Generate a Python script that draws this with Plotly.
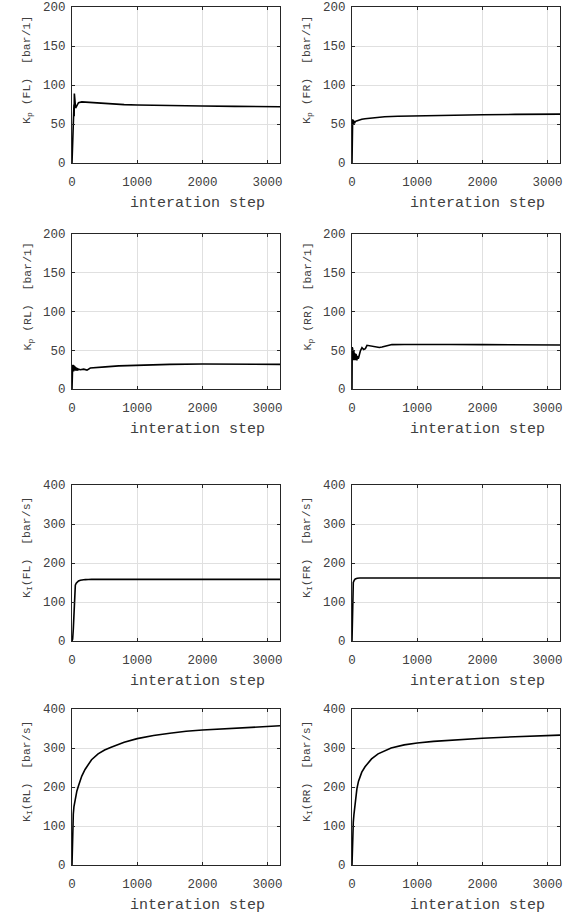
import plotly.graph_objects as go

# ---- data ----
kp_fl_x = [0, 5, 10, 15, 20, 25, 30, 33, 36, 40, 45, 50, 55, 65, 80, 100, 150, 200, 300, 400, 500, 600, 800, 1000, 1250, 1500, 2000, 2500, 3000, 3190]
kp_fl_y = [0, 10, 25, 42, 55, 50, 75, 60, 89, 80, 76, 72, 70.5, 72, 75, 77.3, 78.3, 78.0, 77.2, 76.5, 76.0, 75.6, 74.9, 74.3, 73.8, 73.5, 73.0, 72.6, 72.3, 72.2]

kp_fr_x = [0, 5, 10, 15, 20, 25, 30, 40, 50, 70, 100, 150, 200, 300, 400, 500, 700, 1000, 1500, 2000, 2500, 3190]
kp_fr_y = [0, 50, 56, 51, 55, 50, 54, 51, 53, 54, 55, 56, 56.8, 57.9, 58.6, 59.2, 60, 60.6, 61.3, 61.9, 62.3, 62.7]

kp_rl_x = [0, 5, 10, 15, 20, 25, 30, 35, 40, 45, 50, 55, 60, 65, 70, 75, 80, 85, 90, 95, 102, 128, 179, 230, 281, 358, 511, 716, 1125, 1500, 2000, 2500, 3190]
kp_rl_y = [0, 18, 30.8, 23, 30, 22.6, 29.5, 23, 29, 24, 28.5, 23.5, 28, 24, 27.5, 23.5, 27, 24, 26.5, 24.5, 25.5, 24.8, 25.6, 24.4, 27, 27.8, 28.6, 29.9, 31.2, 31.8, 32.3, 32.0, 31.8]

kp_rr_x = [0, 3, 6, 10, 15, 20, 25, 30, 35, 40, 45, 50, 55, 60, 65, 70, 75, 80, 85, 90, 95, 100, 128, 153, 179, 205, 230, 281, 330, 383, 420, 460, 530, 613, 800, 1125, 1500, 2000, 2500, 3190]
kp_rr_y = [0, 54, 40, 52, 37, 50, 38, 48, 37, 46, 38, 44, 37, 45, 38, 43, 37, 42, 38, 41, 39, 40, 49, 53.4, 51, 52, 56.4, 55.5, 54.5, 53.4, 53.6, 54.3, 56, 57.3, 57.5, 57.7, 57.5, 57.2, 57, 56.8]

ki_fl_x = [0, 10, 20, 30, 36, 45, 51, 65, 77, 100, 128, 160, 205, 250, 300, 3190]
ki_fl_y = [0, 5, 30, 80, 117, 135, 143, 148, 151, 154, 156, 157, 157.5, 157.8, 158, 158]

ki_fr_x = [0, 5, 10, 20, 35, 50, 80, 120, 3190]
ki_fr_y = [0, 60, 130, 150, 156, 159, 161, 161.5, 161.5]

ki_rl_x = [0, 5, 10, 20, 30, 50, 75, 100, 150, 200, 250, 300, 400, 500, 600, 800, 1000, 1250, 1500, 1750, 2000, 2500, 3000, 3190]
ki_rl_y = [0, 55, 95, 130, 150, 172, 190, 203, 228, 245, 258, 270, 285, 295, 302, 315, 324, 332, 338, 343, 346, 351, 355, 357]

ki_rr_x = [0, 5, 10, 20, 30, 50, 75, 100, 150, 200, 300, 400, 500, 600, 800, 1000, 1250, 1500, 2000, 2500, 3000, 3190]
ki_rr_y = [0, 45, 80, 110, 130, 165, 195, 215, 238, 252, 272, 285, 293, 300, 308, 313, 317, 320, 325, 329, 332, 333]

ylabels = ["K<sub>p</sub> (FL)  [bar/1]", "K<sub>p</sub> (FR)  [bar/1]",
           "K<sub>p</sub> (RL)  [bar/1]", "K<sub>p</sub> (RR)  [bar/1]",
           "K<sub>I</sub>(FL)  [bar/s]", "K<sub>I</sub>(FR)  [bar/s]",
           "K<sub>I</sub>(RL)  [bar/s]", "K<sub>I</sub>(RR)  [bar/s]"]
xlabel = "interation step"
x_ticks = [0, 1000, 2000, 3000]
kp_ticks = [0, 50, 100, 150, 200]
ki_ticks = [0, 100, 200, 300, 400]

series = [(kp_fl_x, kp_fl_y), (kp_fr_x, kp_fr_y), (kp_rl_x, kp_rl_y), (kp_rr_x, kp_rr_y),
          (ki_fl_x, ki_fl_y), (ki_fr_x, ki_fr_y), (ki_rl_x, ki_rl_y), (ki_rr_x, ki_rr_y)]

# ---- layout geometry (pixels) ----
W, H = 577, 916
cols = [(72, 280), (352, 560)]
rows = [(7, 163), (234, 389), (485, 641), (709, 865)]

FONT = "Liberation Mono, Courier New, monospace"
AX = "#262626"
TXT = "#404040"
GRID = "#e0e0e0"

fig = go.Figure()
layout = dict(width=W, height=H, margin=dict(l=0, r=0, t=0, b=0, autoexpand=False),
              paper_bgcolor="white", plot_bgcolor="white", showlegend=False,
              font=dict(family=FONT, color=TXT))
annotations = []

for i, (xs, ys) in enumerate(series):
    r, c = divmod(i, 2)
    n = i + 1
    xa = "x" if n == 1 else f"x{n}"
    ya = "y" if n == 1 else f"y{n}"
    fig.add_trace(go.Scatter(x=xs, y=ys, mode="lines", xaxis=xa, yaxis=ya,
                             line=dict(color="black", width=1.6)))
    l, rr = cols[c]
    t, b = rows[r]
    yt = kp_ticks if r < 2 else ki_ticks
    common = dict(showline=True, linecolor=AX, linewidth=1, mirror="ticks",
                  ticks="inside", ticklen=3, tickcolor=AX, tickwidth=1,
                  showgrid=True, gridcolor=GRID, gridwidth=1, zeroline=False,
                  automargin=False,
                  tickfont=dict(family=FONT, size=12.5, color=TXT))
    layout["xaxis" if n == 1 else f"xaxis{n}"] = dict(
        domain=[l / W, rr / W], range=[0, 3190], tickvals=x_ticks,
        anchor=ya, ticklabelstandoff=7, **common)
    layout["yaxis" if n == 1 else f"yaxis{n}"] = dict(
        domain=[1 - b / H, 1 - t / H], range=[0, yt[-1]], tickvals=yt,
        anchor=xa, ticklabelstandoff=3, **common)
    # x label
    annotations.append(dict(text=xlabel, xref="paper", yref="paper",
                            x=(l + rr) / 2 / W + 21 / W, y=1 - (b + 40) / H,
                            xanchor="center", yanchor="middle", showarrow=False,
                            font=dict(family=FONT, size=15, color=TXT)))
    # y label
    annotations.append(dict(text=ylabels[i], xref="paper", yref="paper",
                            x=(l - 45) / W, y=1 - ((t + b) / 2 - 15) / H,
                            xanchor="center", yanchor="middle", showarrow=False,
                            textangle=-90,
                            font=dict(family=FONT, size=11.5, color=TXT)))

layout["annotations"] = annotations
fig.update_layout(**layout)
fig.write_html("out.html", config={"displayModeBar": False},
               post_script="document.body.style.margin='0px';document.body.style.overflow='hidden';")
